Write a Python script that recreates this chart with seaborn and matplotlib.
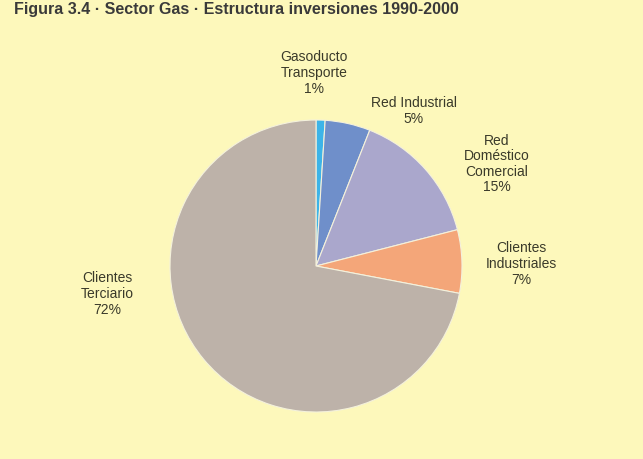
import matplotlib
matplotlib.use("Agg")
import matplotlib.pyplot as plt
import seaborn as sns

# Investment structure by destination (percent)
categories = ["Gasoducto\nTransporte", "Red Industrial", "Red\nDoméstico\nComercial",
              "Clientes\nIndustriales", "Clientes\nTerciario"]
shares = [1, 5, 15, 7, 72]
slice_colors = ["#3db4e8", "#6f8fca", "#aaa7cc", "#f4a679", "#bdb2a9"]
title = "Figura 3.4 · Sector Gas · Estructura inversiones 1990-2000"

sns.set_theme(style="white")
plt.rcParams["font.family"] = ["Liberation Sans", "DejaVu Sans"]

W, H = 643, 459
fig = plt.figure(figsize=(W / 100, H / 100), dpi=100)
fig.patch.set_facecolor("#fdf8bb")
ax = fig.add_axes([0, 0, 1, 1])
ax.set_facecolor("#fdf8bb")

cx, cy, r = 316, H - 266, 146
ax.pie(shares, colors=slice_colors, startangle=90, counterclock=False,
       center=(cx, cy), radius=r, frame=True,
       wedgeprops=dict(edgecolor="#f4f1dc", linewidth=0.8))
ax.set_xlim(0, W)
ax.set_ylim(0, H)
ax.set_axis_off()

# label anchors (pixel positions, measured from the top)
label_pos = [(314, 73), (414, 111), (497, 164), (521, 264), (107, 294)]
for name, share, (lx, ly) in zip(categories, shares, label_pos):
    ax.text(lx, H - ly, f"{name}\n{share}%", ha="center", va="center",
            fontsize=10, color="#3a3a2a", linespacing=1.15)

fig.text(14 / W, 1 - 2 / H, title, ha="left", va="top",
         fontsize=11.5, fontweight="bold", color="#3a3a3a")

fig.savefig("out.png", dpi=100, facecolor=fig.get_facecolor())
